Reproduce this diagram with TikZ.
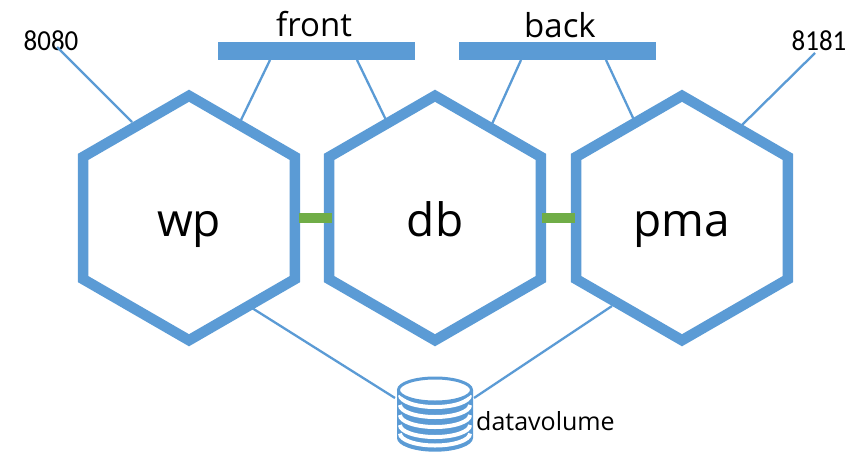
\documentclass[tikz,border=0pt]{standalone}
\usepackage{fontspec}
\setmainfont{Open Sans}
\newfontfamily\digitfont[FakeStretch=0.93]{Carlito}
\usetikzlibrary{shapes.geometric}
\definecolor{hexblue}{HTML}{5B9BD5}
\definecolor{linkgreen}{HTML}{70AD47}
\tikzset{
  hexnode/.style={regular polygon,regular polygon sides=6,shape border rotate=30,minimum size=244.5pt,inner sep=0pt,outer sep=0pt,draw=hexblue,line width=10.5pt,fill=white,font=\fontsize{46}{54}\selectfont,text height=44pt,text depth=8pt},
  netbar/.style={rectangle,fill=hexblue,minimum width=197pt,minimum height=18pt,inner sep=0pt,outer sep=0pt},
  linkbar/.style={rectangle,fill=linkgreen,minimum width=33pt,minimum height=10pt,inner sep=0pt,outer sep=0pt},
  thin link/.style={draw=hexblue,line width=2.3pt},
  netlabel/.style={font=\fontsize{33}{38}\selectfont,inner sep=0pt},
  portlabel/.style={font=\digitfont\fontsize{29}{34}\selectfont,inner sep=0pt},
  vollabel/.style={font=\fontsize{25}{30}\selectfont,inner sep=0pt,anchor=west},
}
\begin{document}
\begin{tikzpicture}[x=1pt,y=-1pt]
\useasboundingbox (0,0) rectangle (856,453);
% hexagons
\node[hexnode] (wp) at (189,218) {wp};
\node[hexnode] (db) at (435,218) {db};
\node[hexnode] (pma) at (682,218) {pma};
% bars
\node[netbar] (front) at (316.5,51) {};
\node[netbar] (back) at (557.5,51) {};
\node[netlabel] (frontl) at (314,24) {front};
\node[netlabel] (backl) at (560,25) {back};
% green links
\node[linkbar] (l1) at (315.5,218) {};
\node[linkbar] (l2) at (558,218) {};
% ports
\node[portlabel] (p1) at (51,41) {8080};
\node[portlabel] (p2) at (819,41) {8181};
\coordinate (p1e) at (57,47);
\coordinate (p2e) at (815,53);
\coordinate (wpA) at (132,122);
\coordinate (wpB) at (241,120);
\coordinate (dbA) at (386,120);
\coordinate (dbB) at (492,124);
\coordinate (pmaA) at (634,120);
\coordinate (pmaB) at (742,125);
\coordinate (fa) at (270,60);
\coordinate (fb) at (357,60);
\coordinate (ba) at (521,60);
\coordinate (bb) at (606,60);
\coordinate (wpC) at (252,308);
\coordinate (pmaC) at (612,306);
\coordinate (volL) at (395,398);
\coordinate (volR) at (474,398);
\draw[thin link] (p1e) -- (wpA);
\draw[thin link] (p2e) -- (pmaB);
\draw[thin link] (fa) -- (wpB);
\draw[thin link] (fb) -- (dbA);
\draw[thin link] (ba) -- (dbB);
\draw[thin link] (bb) -- (pmaA);
\draw[thin link] (wpC) -- (volL);
\draw[thin link] (pmaC) -- (volR);
% volume
\fill[hexblue] (397,390) -- (473,390) -- (473,438) arc[start angle=0,end angle=180,x radius=38,y radius=13.7] -- cycle;
\foreach \yy in {395,405,415,425,433.5}{
  \draw[white,line width=4pt] (400,\yy) arc[start angle=180,end angle=0,x radius=35,y radius=12];
}
\node[ellipse,draw=hexblue,line width=3pt,fill=white,minimum width=73pt,minimum height=24pt,inner sep=0pt,outer sep=0pt] (vol) at (435,390) {};
\node[vollabel] (voll) at (476,421) {datavolume};
\end{tikzpicture}
\end{document}
